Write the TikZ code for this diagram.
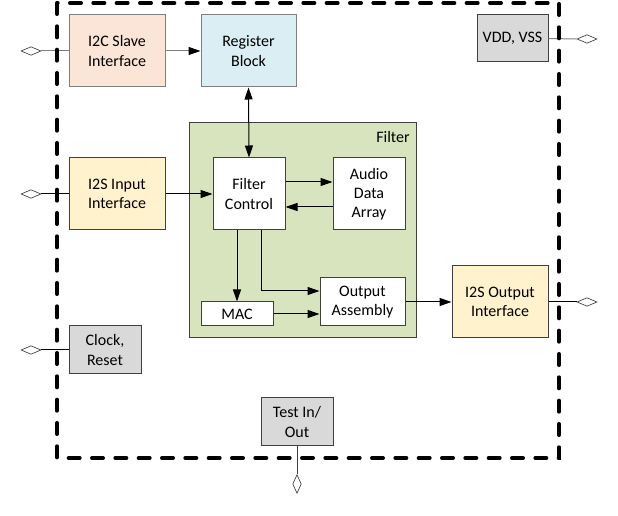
\documentclass[tikz,border=0pt]{standalone}
\usepackage{fontspec}
\setmainfont{Carlito}
\usetikzlibrary{arrows.meta,shapes.geometric}
\definecolor{cpeach}{HTML}{FBE5D6}
\definecolor{cblue}{HTML}{DAEEF3}
\definecolor{cyel}{HTML}{FFF2CC}
\definecolor{cgreen}{HTML}{D7E4BD}
\definecolor{cgray}{HTML}{D9D9D9}
\definecolor{lgray}{HTML}{7F7F7F}
\definecolor{dgray}{HTML}{404040}
\newcommand\mkbox[7]{\node[#2, minimum width={(#5-#3)*0.75pt}, minimum height={(#6-#4)*0.75pt}] (#1) at ({(#3+#5)/2},{(#4+#6)/2}) {#7};}
\tikzset{
  blk/.style={draw=dgray, line width=0.75pt, inner sep=0pt, align=center, font=\fontsize{12}{14.4}\selectfont},
  arr/.style={line width=0.75pt, -{Triangle[length=9pt,width=6pt,black]}},
  darr/.style={line width=0.75pt, {Triangle[length=9pt,width=6pt]}-{Triangle[length=9pt,width=6pt]}},
  pin/.style={draw=dgray, fill=white, shape=diamond, inner sep=0pt, line width=0.5pt},
  hpin/.style={pin, minimum width=15pt, minimum height=6.5pt},
  vpin/.style={pin, minimum width=6.5pt, minimum height=14pt},
  wire/.style={line width=0.75pt},
  border/.style={line width=3pt, dash pattern=on 8.25pt off 9.25pt, line cap=round}
}
\begin{document}
\begin{tikzpicture}[x=0.75pt,y=-0.75pt]
\useasboundingbox (0,0) rectangle (618,516);
% filter container
\mkbox{filter}{blk, fill=cgreen}{189}{123}{416}{338}{}
\node[anchor=base east, inner sep=0pt, font=\fontsize{12}{14.4}\selectfont] (flbl) at (410,143) {Filter};
% blocks
\mkbox{i2c}{blk, fill=cpeach, draw=lgray}{69}{15}{165}{87}{I2C Slave\\Interface}
\mkbox{rb}{blk, fill=cblue, draw=lgray}{201}{15}{296}{87}{Register\\Block}
\mkbox{vdd}{blk, fill=cgray}{477}{15}{548}{62}{VDD, VSS}
\mkbox{i2si}{blk, fill=cyel}{69}{158}{165}{230}{I2S Input\\Interface}
\mkbox{fc}{blk, fill=white}{213}{158}{285}{230}{Filter\\Control}
\mkbox{ada}{blk, fill=white}{333}{158}{405}{230}{Audio\\Data\\Array}
\mkbox{mac}{blk, fill=white}{201}{302}{273}{326}{MAC}
\mkbox{oa}{blk, fill=white}{320}{278}{405}{326}{Output\\Assembly}
\mkbox{i2so}{blk, fill=cyel}{452}{266}{548}{338}{I2S Output\\Interface}
\mkbox{clk}{blk, fill=cgray}{69}{326}{141}{374}{Clock,\\Reset}
\mkbox{test}{blk, fill=cgray}{261}{398}{333}{446}{Test In/\\Out}
% pins
\node[hpin] (p1) at (31,51) {};
\node[hpin] (p2) at (31,194) {};
\node[hpin] (p3) at (31,350) {};
\node[hpin] (p4) at (587,39) {};
\node[hpin] (p5) at (587,302) {};
\node[vpin] (p6) at (297,484) {};
% pin wires
\draw[wire, draw=lgray] (p1.east) -- (i2c.west);
\draw[wire] (p2.east) -- (i2si.west);
\draw[wire] (p3.east) -- (clk.west);
\draw[wire, draw=lgray] (vdd.east) -- (p4.west);
\draw[wire] (i2so.east) -- (p5.west);
\draw[wire, draw=dgray] (test.south) -- (p6.north);
% internal connectors
\draw[arr, draw=lgray] (i2c.east) -- (rb.west);
\draw[darr] (rb.south) -- (fc.north);
\draw[arr] (i2si.east) -- (fc.west);
\draw[arr] (fc.east |- 0,182) -- (ada.west |- 0,182);
\draw[arr] (ada.west |- 0,207) -- (fc.east |- 0,207);
\draw[arr] (fc.south -| 237,0) -- (mac.north -| 237,0);
\draw[arr] (fc.south -| 261,0) |- (oa.west |- 0,291);
\draw[arr] (mac.east |- 0,314) -- (oa.west |- 0,314);
\draw[arr] (oa.east) -- (i2so.west);
% chip boundary
\draw[border] (57,3) rectangle (559,458);
\end{tikzpicture}
\end{document}
